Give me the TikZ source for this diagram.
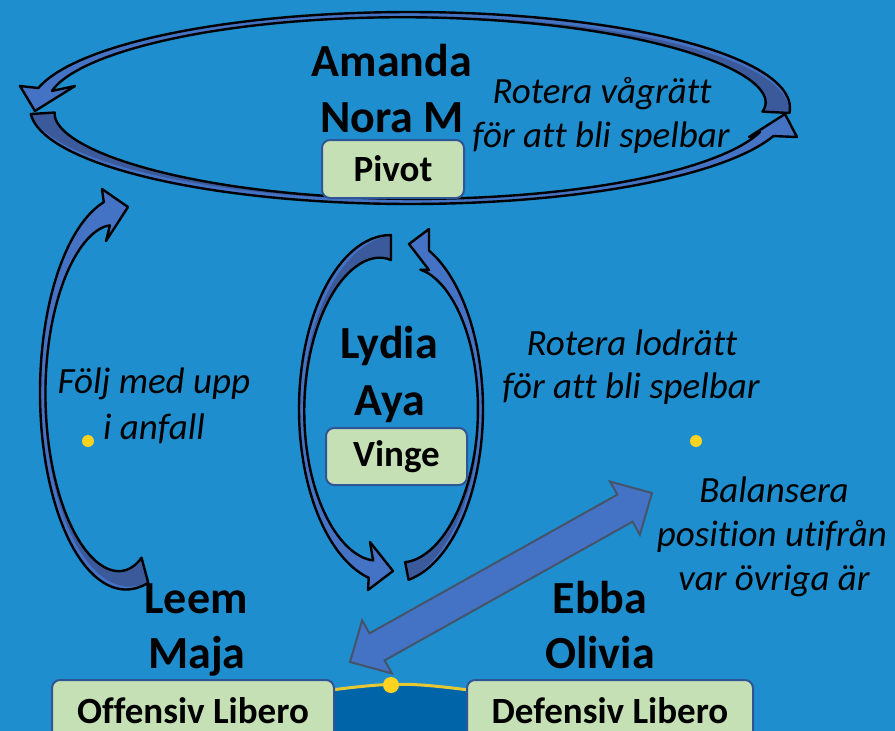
\documentclass[tikz,border=0pt]{standalone}
\usepackage{fontspec}
\setmainfont{Carlito}[Ligatures=NoCommon]
\usetikzlibrary{calc}
\definecolor{fieldblue}{HTML}{1F8ECE}
\definecolor{pitchblue}{HTML}{0064A8}
\definecolor{arrowlight}{HTML}{4472C4}
\definecolor{arrowdark}{HTML}{3A5A9C}
\definecolor{boxfill}{HTML}{C5E0B4}
\definecolor{boxline}{HTML}{2F5597}
\definecolor{swapline}{HTML}{44546A}
\definecolor{spotyellow}{HTML}{FFD31F}
\definecolor{lineyellow}{HTML}{E6C832}
\tikzset{>=latex,
  player/.style={font=\bfseries\fontsize{46}{56}\selectfont, anchor=base, inner sep=0pt},
  hint/.style={font=\itshape\fontsize{37}{44}\selectfont, anchor=base, inner sep=0pt},
  role/.style={draw=boxline, fill=boxfill, line width=2pt, rounded corners=8pt,
    inner sep=2pt, font=\bfseries\fontsize{37}{44}\selectfont},
  rolelabel/.style={font=\bfseries\fontsize{37}{44}\selectfont, anchor=base, inner sep=0pt},
  loopfill/.style={fill=arrowlight},
  loopshade/.style={fill=arrowdark},
  loopline/.style={draw=black, line width=2.4pt, line join=round},
  swaparrow/.style={fill=arrowlight, draw=swapline, line width=2pt},
  spot/.style={circle, fill=spotyellow, inner sep=0pt, minimum size=#1},
  spot/.default=12pt,
}
% band along the ellipse (\lx,\ly) radii \la,\lb; width tapers tail -> middle -> head
\def\bandpos{((\x-(\tA))/((\tB)-(\tA)))}
\def\bandw{((\wA-4)*(1-\bandpos)^4+4+(\wB-4)*(\bandpos)^6)}
\def\bandk{(\bandw*(1-(1-\bandpos)^2))}
\newcommand\bandarrow[7]{%
  \def\tA{#1}\def\tB{#2}\def\wA{#3}\def\wB{#4}%
  \def\bandpath{plot[domain=\tA:\tB] ({\lx+\la*cos(\x)},{\ly-\lb*sin(\x)})
    -- #5 -- #6 -- #7
    -- plot[domain=\tB:\tA] ({\lx+(\la-\bandw)*cos(\x)},{\ly-(\lb-\bandw)*sin(\x)})
    -- cycle}%
  \fill[loopfill] \bandpath;
  \fill[loopshade] plot[domain=\tA:\tB]
    ({\lx+(\la-\bandw)*cos(\x)},{\ly-(\lb-\bandw)*sin(\x)})
    -- plot[domain=\tB:\tA]
    ({\lx+(\la-\bandk)*cos(\x)},{\ly-(\lb-\bandk)*sin(\x)}) -- cycle;
  \draw[loopline] \bandpath;
}

\begin{document}
\begin{tikzpicture}[x=1pt, y=-1pt, samples=90]

  \useasboundingbox (0,0) rectangle (895,731);
  \clip (0,0) rectangle (895,731);
  \fill[fieldblue] (0,0) rectangle (895,731);

  % pitch edge
  \fill[pitchblue] (300,694) .. controls (400,681) .. (500,694)
    -- (500,740) -- (300,740) -- cycle;
  \draw[lineyellow, line width=3pt] (300,694) .. controls (400,681) .. (500,694);

  \node[role, minimum width=282pt, minimum height=86pt] (offlibero) at (193,723) {};
  \node[role, minimum width=286pt, minimum height=86pt] (deflibero) at (610,723) {};
  \node[rolelabel] (offtext) at (offlibero.center) {Offensiv Libero};
  \node[rolelabel] (deftext) at (deflibero.center) {Defensiv Libero};

  % double arrow
  \coordinate (swapA) at (350,662);
  \coordinate (swapB) at (652,493);
  \coordinate (headA) at ($(swapA)!31pt!(swapB)$);
  \coordinate (headB) at ($(swapB)!31pt!(swapA)$);
  \draw[swaparrow] (swapA)
    -- ($(headA)!30.5pt!90:(swapB)$) -- ($(headA)!15.5pt!90:(swapB)$)
    -- ($(headB)!15.5pt!-90:(swapA)$) -- ($(headB)!30.5pt!-90:(swapA)$)
    -- (swapB)
    -- ($(headB)!30.5pt!90:(swapA)$) -- ($(headB)!15.5pt!90:(swapA)$)
    -- ($(headA)!15.5pt!-90:(swapB)$) -- ($(headA)!30.5pt!-90:(swapB)$)
    -- cycle;

  \node[spot=16pt] (ballspot) at (391,685) {};

  % big loop
  \def\lx{410}\def\ly{108}\def\la{380}\def\lb{96}
  \bandarrow{-3}{168}{27}{14}{(20,86)}{(35,111)}{(75,86)}
  \bandarrow{183.6}{343}{24}{14}{(797,137)}{(785,114)}{(749,137)}

  % left arc
  \def\lx{126}\def\ly{392.5}\def\la{86}\def\lb{197}
  \bandarrow{285}{105}{26}{24}{(102,189)}{(128,207)}{(106,241)}

  % middle loop
  \def\lx{391}\def\ly{409}\def\la{92}\def\lb{174}
  \bandarrow{90}{256}{25}{18}{(368,590)}{(393,571)}{(370,542)}
  \bandarrow{-79}{65.6}{18}{21}{(429,229)}{(409,244)}{(429,270)}

  \node[role, minimum width=142pt, minimum height=58pt] (pivot) at (393,169) {Pivot};
  \node[role, minimum width=141pt, minimum height=57pt] (vinge) at (396.5,456.5) {Vinge};

  \node[player] (amanda) at (392,76) {Amanda};
  \node[player] (noram) at (392,132) {Nora M};
  \node[hint] (horizA) at (602,103) {Rotera vågrätt};
  \node[hint] (horizB) at (601,147) {för att bli spelbar};
  \node[hint] (followA) at (154,393) {Följ med upp};
  \node[hint] (followB) at (154,439) {i anfall};
  \node[player] (lydia) at (389,358) {Lydia};
  \node[player] (aya) at (390,415) {Aya};
  \node[hint] (vertA) at (632,355) {Rotera lodrätt};
  \node[hint] (vertB) at (631,398) {för att bli spelbar};
  \node[hint] (balA) at (774,502) {Balansera};
  \node[hint] (balB) at (772,546) {position utifrån};
  \node[hint] (balC) at (774,590) {var övriga är};
  \node[player] (leem) at (196,613) {Leem};
  \node[player] (maja) at (197,668) {Maja};
  \node[player] (ebba) at (600,613) {Ebba};
  \node[player] (olivia) at (600,668) {Olivia};

  \node[spot] (spotleft) at (88,441) {};
  \node[spot] (spotright) at (696,441) {};

\end{tikzpicture}
\end{document}
